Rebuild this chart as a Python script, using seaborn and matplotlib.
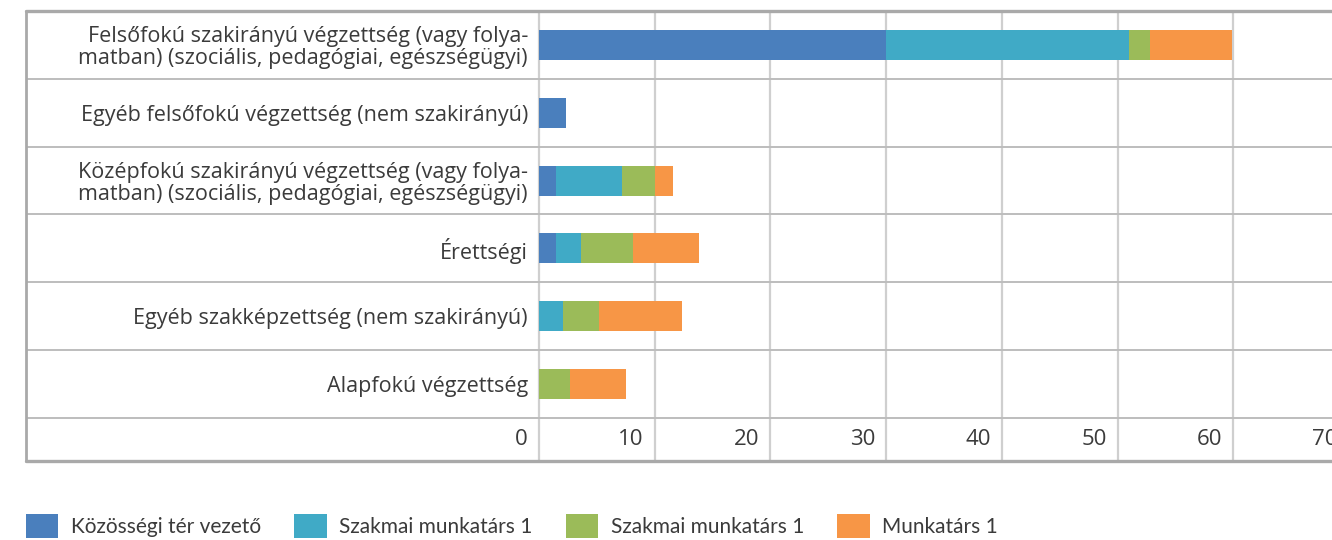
import matplotlib
matplotlib.use("Agg")
import matplotlib.pyplot as plt
import matplotlib.transforms as mtransforms
from matplotlib.patches import Patch
import seaborn as sns
import numpy as np

# adatok
kategoriak = [
    "Felsőfokú szakirányú végzettség (vagy folya-\nmatban) (szociális, pedagógiai, egészségügyi)",
    "Egyéb felsőfokú végzettség (nem szakirányú)",
    "Középfokú szakirányú végzettség (vagy folya-\nmatban) (szociális, pedagógiai, egészségügyi)",
    "Érettségi",
    "Egyéb szakképzettség (nem szakirányú)",
    "Alapfokú végzettség",
]
vezeto = [30, 2.3, 1.5, 1.5, 0, 0]
szakmai_a = [21, 0, 5.7, 2.1, 2.1, 0]
szakmai_b = [1.8, 0, 2.8, 4.55, 3.1, 2.65]
munkatars = [7.1, 0, 1.6, 5.7, 7.15, 4.9]

sorozat_nevek = ["Közösségi tér vezető", "Szakmai munkatárs 1", "Szakmai munkatárs 1", "Munkatárs 1"]
szinek = ["#4a7fbd", "#40aac6", "#9bbb59", "#f79646"]
x_tickek = [0, 10, 20, 30, 40, 50, 60, 70]

sns.set_theme(style="white")
plt.rcParams["font.family"] = ["Open Sans", "DejaVu Sans"]
szoveg_szin = "#3b3b3b"

W, H = 1332, 540
fig = plt.figure(figsize=(W / 100, H / 100), dpi=100)
# tengely: x 539..1349 px (0..70), y 11..418 px
ax = fig.add_axes([539 / W, 1 - 418 / H, (1349 - 539) / W, (418 - 11) / H])

# halmozott sávok (hátulról előre)
sorok = np.array([vezeto, szakmai_a, szakmai_b, munkatars])
kumulalt = np.cumsum(sorok, axis=0)
for i in range(3, -1, -1):
    sns.barplot(x=kumulalt[i], y=kategoriak, color=szinek[i], saturation=1,
                width=0.44, orient="h", ax=ax, linewidth=0, edgecolor="none")

ax.set_xlim(0, 70)
ax.set_ylim(5.5, -0.5)
for s in ax.spines.values():
    s.set_visible(False)
ax.set_xlabel("")
ax.set_ylabel("")

# rács és keret
racs = "#cfcfcf"
keret = "#a9a9a9"
bal = (26 - 539) / (1349 - 539)
also = -(461 - 418) / (418 - 11)
ax.vlines(x_tickek, also, 1, transform=ax.get_xaxis_transform(), colors=racs, lw=1.6, clip_on=False, zorder=0)
ax.hlines([0.5, 1.5, 2.5, 3.5, 4.5, 5.5], bal, 1, transform=ax.get_yaxis_transform(), colors="#bdbdbd", lw=1.4, clip_on=False, zorder=0)
ax.plot([bal, 1], [1, 1], transform=ax.transAxes, color=keret, lw=2.4, clip_on=False)
ax.plot([bal, 1], [also, also], transform=ax.transAxes, color=keret, lw=2.4, clip_on=False)
ax.plot([bal, bal], [also, 1], transform=ax.transAxes, color=keret, lw=2.0, clip_on=False)

# tengelyfeliratok
ax.set_xticks(x_tickek)
ax.set_xticklabels([str(t) for t in x_tickek])
ax.tick_params(axis="x", length=0, pad=8, labelsize=16, labelcolor=szoveg_szin)
eltolas = mtransforms.ScaledTranslation(-11 / 100, 0, fig.dpi_scale_trans)
for lab in ax.get_xticklabels():
    lab.set_ha("right")
    lab.set_transform(lab.get_transform() + eltolas)
ax.tick_params(axis="y", length=0, pad=8, labelsize=15.5, labelcolor=szoveg_szin)
for lab in ax.get_yticklabels():
    lab.set_linespacing(1.05)

# jelmagyarázat
kezelok = [Patch(facecolor=c, edgecolor="none") for c in szinek]
fig.legend(kezelok, sorozat_nevek, loc="center left", bbox_to_anchor=(26 / W, 1 - 526 / H),
           ncol=4, frameon=False, handlelength=1.55, handleheight=1.35,
           handletextpad=0.6, columnspacing=1.6, borderpad=0, borderaxespad=0,
           prop={"family": ["Lato", "DejaVu Sans"], "size": 15},
           labelcolor=szoveg_szin)

fig.savefig("out.png", dpi=100)
